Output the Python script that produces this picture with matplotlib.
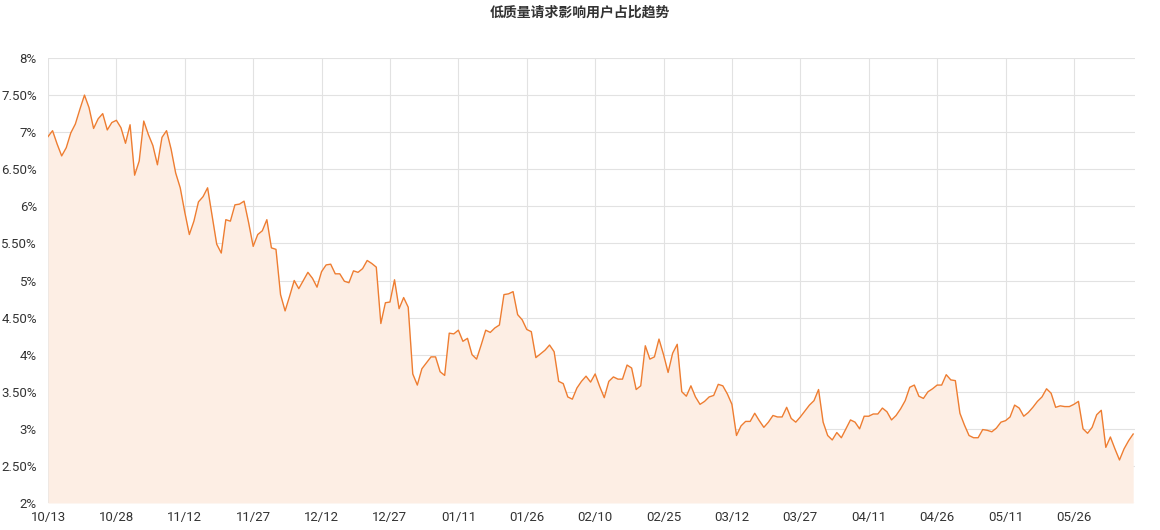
import numpy as np
import pandas as pd
import matplotlib
matplotlib.use("Agg")
import matplotlib.pyplot as plt

plt.rcParams['font.family'] = ['Roboto', 'Noto Sans CJK SC', 'DejaVu Sans']

start_date = '2022-10-13'
title = '低质量请求影响用户占比趋势'

# daily share of affected users, in percent
values = [
    6.94, 7.02, 6.84, 6.68, 6.79, 6.99, 7.11, 7.31, 7.50, 7.33,
    7.05, 7.18, 7.25, 7.03, 7.13, 7.16, 7.06, 6.85, 7.10, 6.42,
    6.61, 7.15, 6.97, 6.82, 6.56, 6.93, 7.02, 6.77, 6.45, 6.25,
    5.92,
    5.62, 5.80, 6.06, 6.13, 6.25, 5.87, 5.49, 5.37, 5.82, 5.80,
    6.02, 6.03, 6.07, 5.78, 5.46, 5.62, 5.67, 5.82, 5.44, 5.42,
    4.81, 4.59, 4.79, 5.00, 4.89, 5.00, 5.11,
    5.03, 4.91, 5.12, 5.21, 5.22, 5.09, 5.09, 4.99, 4.97, 5.13,
    5.11, 5.16, 5.27, 5.23, 5.18, 4.42, 4.70, 4.71, 5.01, 4.62,
    4.77, 4.64, 3.74, 3.59, 3.81, 3.89, 3.97, 3.97, 3.77, 3.72,
    4.29, 4.28, 4.33, 4.18, 4.22, 4.00, 3.94, 4.13, 4.33, 4.30,
    4.36, 4.40, 4.81, 4.82, 4.85, 4.54, 4.47, 4.34, 4.31, 3.96,
    4.01, 4.06, 4.13, 4.04, 3.64, 3.61, 3.43, 3.40, 3.55, 3.64,
    3.71, 3.63, 3.74, 3.57, 3.42, 3.64, 3.70, 3.67, 3.67, 3.86,
    3.82, 3.53, 3.58, 4.12, 3.94, 3.97, 4.21, 4.00, 3.76, 4.02,
    4.14, 3.50, 3.44, 3.58, 3.43, 3.33, 3.37, 3.43,
    3.45, 3.60, 3.58, 3.47, 3.33, 2.91, 3.04, 3.10, 3.10, 3.21,
    3.11, 3.02, 3.09, 3.18, 3.16, 3.16, 3.29, 3.14, 3.09, 3.16,
    3.24, 3.32, 3.38, 3.53, 3.09, 2.91, 2.85, 2.95, 2.88, 3.00,
    3.12, 3.09, 3.00, 3.17, 3.17, 3.20, 3.20, 3.28, 3.23, 3.12,
    3.18, 3.27, 3.38, 3.56, 3.59, 3.44, 3.41, 3.50, 3.54, 3.59,
    3.59, 3.73, 3.66, 3.65, 3.21, 3.05, 2.91, 2.88, 2.88, 2.99,
    2.98, 2.96, 3.01, 3.09, 3.11, 3.16, 3.32, 3.28, 3.17, 3.22,
    3.29, 3.37, 3.43, 3.54, 3.48, 3.29, 3.31, 3.30, 3.30, 3.33,
    3.37, 3.00, 2.94, 3.02, 3.19, 3.25, 2.75, 2.89, 2.73, 2.58,
    2.73, 2.84, 2.93,
]

y_ticks = [2, 2.5, 3, 3.5, 4, 4.5, 5, 5.5, 6, 6.5, 7, 7.5, 8]

dates = pd.date_range(start_date, periods=len(values), freq='D')
x = np.arange(len(values))
tick_idx = np.arange(0, len(values) - 10, 15)
tick_labels = [dates[i].strftime('%m/%d') for i in tick_idx]

def pct(v):
    return '%d%%' % v if float(v).is_integer() else '%.2f%%' % v

fig = plt.figure(figsize=(11.6, 5.3), dpi=100)
ax = fig.add_axes([48 / 1160, 1 - 503 / 530, (1135 - 48) / 1160, (503 - 58) / 530])

line_color = '#ee7d31'
ax.fill_between(x, values, 2, color='#fdeee4', linewidth=0, zorder=1)
ax.plot(x, values, color=line_color, linewidth=1.0, zorder=3)

ax.set_xlim(0, 238.4)
ax.set_ylim(2, 8)
ax.set_xticks(tick_idx)
ax.set_xticklabels(tick_labels)
ax.set_yticks(y_ticks)
ax.set_yticklabels([pct(v) for v in y_ticks])

ax.grid(True, color='#e2e2e2', linewidth=0.8, zorder=0)
ax.set_axisbelow(True)
for s in ax.spines.values():
    s.set_visible(False)
ax.tick_params(axis='both', length=0, labelsize=9.5, colors='#333333')
ax.tick_params(axis='x', pad=6)
ax.tick_params(axis='y', pad=8)

fig.text(0.5, 1 - 12 / 530, title, ha='center', va='center', fontsize=10,
         fontweight='bold', color='#333333', family=['Noto Sans CJK SC', 'DejaVu Sans'])

fig.savefig('out.png', dpi=100)
